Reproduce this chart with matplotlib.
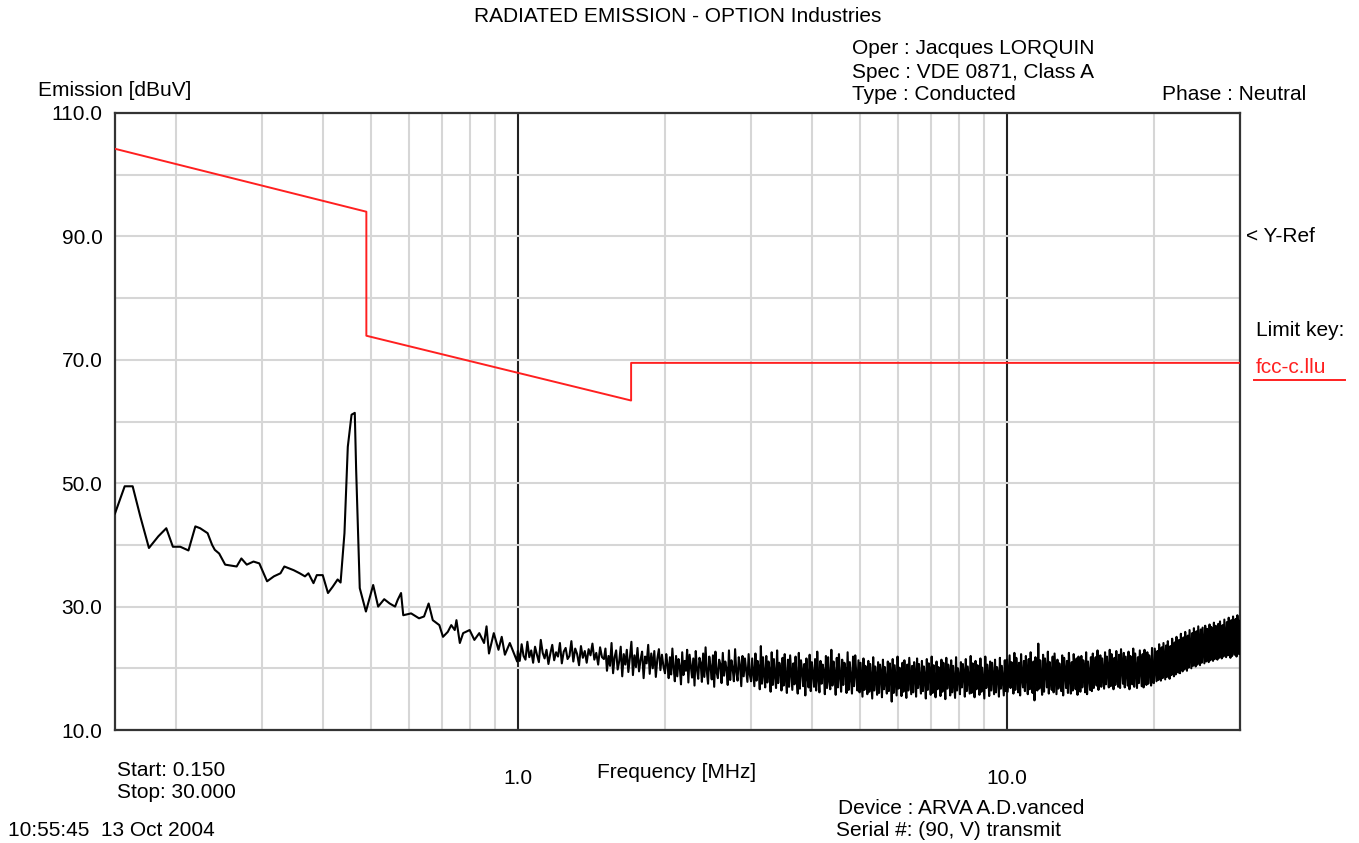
import numpy as np
import matplotlib
matplotlib.use("Agg")
import matplotlib.pyplot as plt
from matplotlib.ticker import FixedLocator, NullFormatter

plt.rcParams['font.family'] = ['Liberation Sans', 'DejaVu Sans']

# ---------------- data ----------------
# Limit line (fcc-c.llu)
limit_freq = [0.15, 0.49, 0.49, 1.705, 1.705, 30.0]
limit_db = [104.2, 94.0, 73.9, 63.4, 69.5, 69.5]

# Emission trace, low-frequency part (read point by point)
low_freq = [0.150, 0.157, 0.163, 0.169, 0.176, 0.184, 0.191, 0.197, 0.204, 0.212,
            0.219, 0.224, 0.232, 0.237, 0.240, 0.245, 0.252, 0.266, 0.272, 0.279,
            0.288, 0.296, 0.307, 0.317, 0.327, 0.333, 0.348, 0.358, 0.367, 0.373,
            0.382, 0.388, 0.399, 0.409, 0.418, 0.428, 0.434, 0.442, 0.449, 0.457,
            0.464, 0.467, 0.475, 0.489, 0.506, 0.518, 0.533, 0.547, 0.561, 0.568,
            0.577, 0.583, 0.605, 0.628, 0.643, 0.657, 0.670, 0.691, 0.703, 0.719,
            0.731, 0.743, 0.749, 0.761, 0.773, 0.797, 0.815, 0.834, 0.853, 0.863,
            0.873, 0.893, 0.913, 0.927, 0.941, 0.963, 0.997]
low_db = [45.1, 49.5, 49.5, 44.6, 39.5, 41.4, 42.7, 39.7, 39.7, 39.1,
          43.0, 42.7, 41.9, 40.0, 39.2, 38.6, 36.8, 36.5, 37.8, 36.8,
          37.3, 37.0, 34.1, 34.9, 35.4, 36.5, 35.9, 35.4, 34.9, 35.4,
          33.8, 35.1, 35.1, 32.2, 33.2, 34.4, 33.9, 41.9, 55.9, 61.1,
          61.4, 52.2, 33.0, 29.2, 33.5, 30.0, 31.2, 30.5, 30.0, 31.1,
          32.2, 28.6, 28.9, 28.1, 28.4, 30.5, 27.8, 27.0, 25.1, 25.9,
          27.0, 26.2, 27.8, 24.1, 25.7, 26.2, 24.6, 25.7, 24.1, 26.8,
          22.4, 25.7, 23.0, 25.1, 22.2, 24.1, 21.1]

# Emission trace, dense sweep 1 - 30 MHz, read band by band
band_edges = [1.0, 1.5, 2.0, 3.0, 5.0, 10.0, 15.0, 20.0, 30.0]
band_1_15 = [22.8, 21.2, 23.9, 22.0, 21.4, 24.3, 21.8, 22.9, 20.9, 23.5, 22.2, 21.0, 24.6, 22.5,
             21.6, 23.0, 20.7, 22.4, 23.8, 21.3, 22.6, 21.9, 24.1, 20.8, 22.7, 23.3, 21.5, 22.0,
             24.4, 21.1, 23.2, 22.3, 20.5, 23.6, 21.7, 22.8, 20.9, 23.1, 22.1, 24.0, 21.4, 22.5,
             20.6, 23.4, 21.8]
band_15_2 = [21.5, 23.2, 19.6, 22.0, 20.4, 24.1, 19.2, 21.8, 22.9, 19.8, 21.1, 23.5, 18.7, 22.3,
             20.6, 23.0, 19.4, 21.7, 24.3, 18.9, 22.1, 20.2, 23.3, 19.5, 21.4, 22.7, 18.4, 21.9,
             20.8, 23.8, 19.1, 22.4, 20.0, 22.8, 18.6, 21.6, 23.1, 19.7, 22.2, 20.3]
band_2_3 = [19.2, 22.3, 20.6, 18.4, 21.8, 19.0, 23.2, 20.1, 17.9, 22.0, 18.7, 21.5, 20.3, 17.4,
            22.6, 18.9, 21.2, 19.6, 23.0, 17.7, 22.2, 20.4, 18.5, 21.6, 17.2, 22.8, 19.8, 18.3,
            21.7, 20.9, 17.8, 22.4, 18.6, 23.4, 19.5, 17.5, 21.9, 20.2, 18.2, 22.1, 17.0, 22.7,
            19.3, 18.4, 21.4, 20.7, 17.6, 22.5, 18.8, 21.1, 19.9, 17.3, 22.9, 18.1, 21.3, 20.0,
            17.9, 23.1, 19.4, 18.0, 21.8, 20.5, 17.1, 22.0, 18.7, 21.6, 19.7, 17.8, 22.3, 18.9]
band_3_5 = [17.9, 21.6, 19.4, 17.1, 22.4, 18.0, 21.2, 20.1, 16.6, 23.6, 17.5, 21.8, 19.0, 16.9,
            22.0, 17.7, 21.1, 19.6, 16.2, 22.6, 17.3, 21.5, 18.8, 16.8, 22.9, 17.6, 20.9, 19.9,
            16.4, 21.7, 17.2, 22.3, 18.5, 16.0, 21.4, 17.0, 22.1, 19.3, 16.5, 20.8, 17.4, 21.9,
            18.2, 15.9, 22.5, 16.7, 21.3, 19.7, 17.1, 20.7, 15.6, 21.6, 18.6, 16.9, 22.2, 16.3,
            21.0, 19.1, 17.0, 21.5, 16.4, 22.7, 18.3, 16.1, 21.2, 17.5, 20.6, 19.5, 15.8, 22.0,
            16.8, 21.8, 18.0, 16.6, 23.0, 17.2, 21.1, 19.2, 15.7, 21.7, 16.9, 22.3, 18.7, 16.2,
            21.4, 17.3, 20.9, 19.8, 16.0, 22.6, 16.5, 21.0, 18.4, 15.9, 21.9, 17.1, 22.1, 19.0,
            16.4, 21.3]
band_5_10 = [16.1, 20.9, 18.2, 15.4, 21.6, 16.5, 20.4, 19.0, 15.8, 21.2, 16.2, 20.7, 17.9, 15.1,
             21.8, 16.4, 20.3, 18.6, 15.7, 21.0, 16.0, 20.6, 19.2, 15.3, 21.4, 16.6, 20.2, 17.7,
             15.9, 21.1, 16.3, 20.8, 18.9, 14.6, 21.5, 16.0, 20.5, 18.1, 15.6, 21.9, 16.7, 20.1,
             19.3, 15.5, 20.9, 16.2, 21.3, 17.8, 15.2, 20.6, 16.4, 21.7, 18.7, 15.8, 20.4, 16.1,
             21.0, 19.1, 15.4, 21.6, 16.8, 20.7, 18.0, 15.9, 21.2, 16.3, 20.3, 18.5, 15.1, 21.5,
             16.5, 20.8, 19.4, 15.7, 21.9, 16.0, 20.5, 17.6, 15.3, 21.1, 16.6, 20.2, 18.8, 15.5,
             21.4, 16.2, 20.9, 18.3, 15.0, 21.7, 16.7, 20.6, 19.0, 15.6, 21.3, 16.1, 20.4, 17.9,
             15.2, 21.8, 16.4, 20.0, 18.6, 15.8, 21.0, 16.9, 20.7, 19.2, 15.4, 21.5, 16.3, 20.3,
             18.1, 15.9, 22.0, 16.0, 20.8, 18.4, 15.3, 21.2, 16.6, 20.5, 19.5, 15.7, 21.6, 16.2,
             20.1, 17.7, 15.1, 21.9, 16.8, 20.6, 18.9, 15.5, 21.1, 16.4, 20.9, 18.2, 15.8, 21.4,
             16.1, 20.2, 19.1, 15.4, 21.7, 16.7, 20.4, 18.0, 15.6, 21.3, 16.3]
band_10_15 = [21.4, 16.2, 19.3, 22.1, 16.8, 21.0, 18.7, 15.9, 22.5, 16.5, 21.7, 19.6, 16.1, 20.9,
              15.6, 22.3, 18.4, 16.9, 21.2, 16.3, 22.0, 19.1, 15.8, 21.5, 16.6, 22.6, 18.9, 16.0,
              21.1, 14.8, 21.8, 19.4, 16.4, 24.0, 16.7, 21.3, 18.2, 15.7, 22.2, 16.2, 21.6, 19.8,
              16.9, 22.7, 15.9, 21.0, 18.6, 16.5, 21.9, 16.1, 22.4, 19.0, 15.8, 21.4, 16.7, 20.8,
              18.3, 16.3, 22.1, 15.6, 21.7, 19.5, 16.8, 21.2, 16.0, 22.5, 18.8, 15.9, 21.0, 16.4,
              22.3, 19.2, 16.6, 21.6, 15.7, 21.9, 18.5, 16.2, 22.0, 16.9, 21.3, 19.7, 16.1, 22.6,
              15.8, 21.1, 18.9, 16.5, 21.8, 16.3]
band_15_20 = [22.4, 16.8, 19.9, 21.8, 17.2, 22.9, 16.5, 20.3, 22.1, 17.0, 21.6, 19.2, 16.7, 22.6,
              17.4, 21.9, 19.7, 16.9, 23.0, 17.1, 22.3, 20.0, 16.6, 21.7, 17.3, 22.8, 19.4, 17.0,
              22.2, 16.8, 23.1, 20.2, 17.5, 22.5, 16.9, 21.9, 19.6, 17.2, 22.7, 16.6, 22.0, 20.4,
              17.4, 23.2, 17.0, 22.4, 19.8, 16.8, 21.8, 17.6, 22.9, 20.1, 17.1, 22.3, 16.9, 23.0,
              19.5, 17.3, 22.6, 17.5, 22.1, 20.3, 17.2, 23.3, 17.7]
band_20_30 = [17.6, 23.2, 20.4, 17.9, 22.8, 18.1, 23.9, 20.6, 18.0, 23.4, 18.4, 24.1, 21.0, 18.2,
              23.7, 18.6, 24.4, 20.8, 18.3, 23.6, 18.9, 24.8, 21.5, 18.7, 24.2, 19.0, 25.1, 21.7,
              19.3, 24.6, 19.2, 25.6, 22.0, 19.5, 25.0, 19.8, 25.9, 22.4, 19.6, 25.3, 20.1, 26.2,
              22.9, 20.0, 25.7, 20.4, 26.5, 23.1, 20.3, 26.0, 20.6, 26.8, 23.5, 20.5, 26.3, 20.9,
              26.6, 23.8, 20.8, 26.9, 21.1, 26.4, 24.0, 21.0, 27.1, 21.3, 26.7, 24.2, 21.2, 27.4,
              21.5, 26.9, 24.5, 21.4, 27.2, 21.7, 27.6, 24.8, 21.6, 27.0, 21.9, 27.9, 25.0, 21.8,
              27.5, 22.1, 28.2, 25.3, 21.7, 27.8, 22.0, 28.4, 25.5, 22.2, 28.0, 21.9, 28.6, 25.8,
              22.3, 27.7]
bands = [band_1_15, band_15_2, band_2_3, band_3_5, band_5_10, band_10_15, band_15_20, band_20_30]

y_ticks = [10, 30, 50, 70, 90, 110]
y_ticklabels = ["10.0", "30.0", "50.0", "70.0", "90.0", "110.0"]
x_major = [1.0, 10.0]
x_ticklabels = ["1.0", "10.0"]
x_minor = [0.2, 0.3, 0.4, 0.5, 0.6, 0.7, 0.8, 0.9, 2, 3, 4, 5, 6, 7, 8, 9, 20]
y_minor = [20, 40, 60, 80, 100]

# ---------------- figure ----------------
W, H = 1359, 843
fig = plt.figure(figsize=(W / 100, H / 100), dpi=100)
fig.patch.set_facecolor("white")

def fx(px):
    return px / W

def fy(py):
    return 1 - py / H

ax = fig.add_axes([fx(115), fy(730), fx(1240) - fx(115), fy(113) - fy(730)])
ax.set_xscale("log")
ax.set_xlim(0.15, 30.0)
ax.set_ylim(10, 110)

dense_f, dense_v = [], []
for i, vals in enumerate(bands):
    last = i == len(bands) - 1
    f = np.geomspace(band_edges[i], band_edges[i + 1], len(vals), endpoint=last)
    dense_f.append(f)
    dense_v.append(np.asarray(vals))
trace_f = np.concatenate([low_freq] + dense_f)
trace_v = np.concatenate([low_db] + dense_v)

# grid
ax.set_yticks(y_ticks)
ax.set_yticklabels(y_ticklabels)
ax.yaxis.set_minor_locator(FixedLocator(y_minor))
ax.set_xticks(x_major)
ax.set_xticklabels(x_ticklabels)
ax.xaxis.set_minor_locator(FixedLocator(x_minor))
ax.xaxis.set_minor_formatter(NullFormatter())
ax.grid(True, which="minor", color="#d6d6d6", lw=1.5, zorder=0)
ax.grid(True, which="major", axis="y", color="#d6d6d6", lw=1.5, zorder=0)
ax.grid(True, which="major", axis="x", color="#222222", lw=1.5, zorder=1)
ax.set_axisbelow(True)
ax.tick_params(which="both", length=0)
fs = 15
ax.tick_params(axis="y", pad=9, labelsize=fs)
ax.tick_params(axis="x", pad=28, labelsize=fs)
for s in ax.spines.values():
    s.set_color("#333333")
    s.set_linewidth(1.6)

ax.plot(trace_f, trace_v, color="black", lw=1.5, zorder=3)
ax.plot(limit_freq, limit_db, color="#ff2020", lw=1.4, zorder=4)

fig.text(fx(678), fy(17), "RADIATED EMISSION - OPTION Industries", ha="center", va="center", fontsize=fs)
fig.text(fx(852), fy(48), "Oper : Jacques LORQUIN", ha="left", va="center", fontsize=fs)
fig.text(fx(852), fy(72), "Spec : VDE 0871, Class A", ha="left", va="center", fontsize=fs)
fig.text(fx(852), fy(95), "Type : Conducted", ha="left", va="center", fontsize=fs)
fig.text(fx(1162), fy(95), "Phase : Neutral", ha="left", va="center", fontsize=fs)
fig.text(fx(38), fy(90), "Emission [dBuV]", ha="left", va="center", fontsize=fs)
fig.text(fx(677), fy(772), "Frequency [MHz]", ha="center", va="center", fontsize=fs)
fig.text(fx(117), fy(771), "Start: 0.150", ha="left", va="center", fontsize=fs)
fig.text(fx(117), fy(793), "Stop: 30.000", ha="left", va="center", fontsize=fs)
fig.text(fx(8), fy(831), "10:55:45  13 Oct 2004", ha="left", va="center", fontsize=fs)
fig.text(fx(838), fy(808), "Device : ARVA A.D.vanced", ha="left", va="center", fontsize=fs)
fig.text(fx(836), fy(831), "Serial #: (90, V) transmit", ha="left", va="center", fontsize=fs)
fig.text(fx(1246), fy(236), "< Y-Ref", ha="left", va="center", fontsize=fs)
fig.text(fx(1256), fy(330), "Limit key:", ha="left", va="center", fontsize=fs)
fig.text(fx(1256), fy(367), "fcc-c.llu", ha="left", va="center", fontsize=fs, color="#ff2020")
fig.add_artist(plt.Line2D([fx(1254), fx(1345)], [fy(380), fy(380)], color="#ff2020", lw=1.4))

fig.savefig("out.png", dpi=100, facecolor="white")
